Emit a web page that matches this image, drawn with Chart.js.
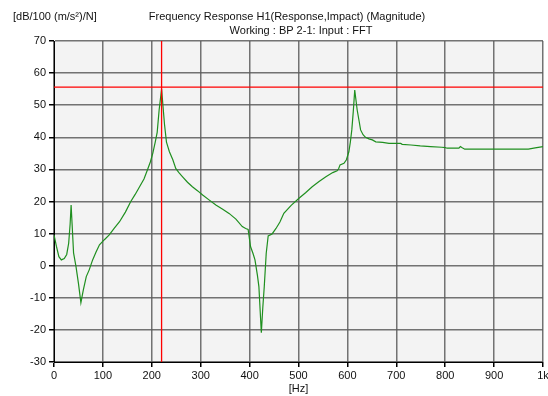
<!DOCTYPE html>
<html>
<head>
<meta charset="utf-8">
<script src="https://cdn.jsdelivr.net/npm/chart.js@4"></script>
<style>
  html, body { margin: 0; padding: 0; background: #fff; }
  #wrap { width: 548px; height: 396px; }
</style>
</head>
<body>
<div id="wrap"><canvas id="frfChart" width="548" height="396"></canvas></div>
<script>
// frequency axis [Hz] and magnitude [dB]
const freqHz = [0, 5, 10, 15, 21, 26, 30, 33, 35, 37, 40, 45, 50, 55, 60, 66, 72, 79, 86, 93,
  103, 113, 123, 134, 146, 157, 166, 175, 184, 191, 197, 202, 207, 211, 215, 220, 223, 226, 230, 236,
  243, 249, 255, 263, 273, 283, 294, 304, 317, 331, 345, 358, 372, 385, 392, 397, 402, 407, 411, 416,
  419, 424, 427, 430, 434, 438, 446, 454, 462, 470, 485, 501, 515, 528, 542, 556, 570, 579, 582, 585,
  593, 598, 603, 606, 609, 612, 615, 618, 620, 624, 627, 632, 637, 644, 651, 658, 672, 685, 709, 712,
  730, 749, 770, 793, 800, 804, 828, 831, 834, 840, 900, 970, 984, 1000];
const magDb = [9.6, 6, 2.8, 1.8, 2.2, 3.5, 7, 13, 18.9, 13, 4, -0.3, -5.5, -11.5, -7.5, -3.4, -1.3, 1.8, 4.3, 6.5,
  8.1, 9.6, 11.6, 13.7, 16.7, 20, 22.2, 24.6, 27, 29.8, 32.3, 35, 38.5, 41.5, 48.5, 55, 49.5, 44, 38.5, 35.5,
  33, 30.3, 29.1, 27.7, 26, 24.6, 23.3, 22, 20.5, 18.9, 17.6, 16.3, 14.5, 12.2, 11.6, 11.3, 5.9, 3.8, 1.8, -3,
  -6.5, -20.9, -13, -6.5, 3.9, 9.3, 9.9, 11.6, 13.6, 16.3, 18.8, 21, 22.8, 24.6, 26.2, 27.7, 29, 29.6, 30.2, 31.4,
  31.9, 33, 35.5, 38.5, 42.3, 48, 54.7, 51, 48.5, 45, 42.3, 40.8, 40, 39.5, 39.2, 38.6, 38.4, 38.1, 38.1, 37.8,
  37.6, 37.3, 37.1, 36.9, 36.8, 36.6, 36.6, 37.1, 36.8, 36.3, 36.3, 36.3, 36.7, 37.1];

// cursor position (red cross)
const cursorHz = 220;
const cursorDb = 55.6;

const xMin = 0, xMax = 1000, yMin = -30, yMax = 70;

const font = { family: '"Liberation Sans", Arial, sans-serif', size: 11 };

const curve = freqHz.map((f, i) => ({ x: f, y: magDb[i] }));

// plot background + header texts
const frame = {
  id: 'frame',
  beforeDraw(chart) {
    const { ctx, chartArea: a } = chart;
    ctx.save();
    ctx.fillStyle = '#f3f3f3';
    ctx.fillRect(a.left, a.top, a.right - a.left, a.bottom - a.top);
    ctx.restore();
  },
  afterDraw(chart) {
    const ctx = chart.ctx;
    ctx.save();
    ctx.fillStyle = '#111';
    ctx.font = '11px "Liberation Sans", Arial, sans-serif';
    ctx.textBaseline = 'middle';
    ctx.textAlign = 'left';
    ctx.fillText('[dB/100 (m/s²)/N]', 13, 17);
    ctx.textAlign = 'center';
    ctx.fillText('Frequency Response H1(Response,Impact) (Magnitude)', 287, 17);
    ctx.fillText('Working : BP 2-1: Input : FFT', 301, 31);
    ctx.restore();
  }
};

new Chart(document.getElementById('frfChart'), {
  type: 'line',
  data: {
    datasets: [
      {
        data: [{ x: cursorHz, y: yMin }, { x: cursorHz, y: yMax }],
        borderColor: '#ff0000',
        borderWidth: 1.3,
        pointRadius: 0
      },
      {
        data: [{ x: xMin, y: cursorDb }, { x: xMax, y: cursorDb }],
        borderColor: '#ff0000',
        borderWidth: 1.3,
        pointRadius: 0
      },
      {
        data: curve,
        borderColor: '#1f8f1f',
        borderWidth: 1.2,
        pointRadius: 0,
        tension: 0
      }
    ]
  },
  options: {
    responsive: false,
    animation: false,
    events: [],
    layout: { padding: { top: 41, right: 5, left: 0, bottom: 0 } },
    plugins: {
      legend: { display: false },
      tooltip: { enabled: false }
    },
    scales: {
      x: {
        type: 'linear',
        min: xMin,
        max: xMax,
        ticks: {
          stepSize: 100,
          color: '#111',
          font: font,
          padding: 2,
          maxRotation: 0,
          callback: v => (v === 1000 ? '1k' : v)
        },
        grid: { color: 'rgba(90,90,90,0.85)', lineWidth: 1.5, tickLength: 5, tickColor: '#000' },
        border: { color: '#000', width: 1 },
        title: { display: true, text: '[Hz]', color: '#111', font: font, padding: 0 },
        afterFit(s) { s.height = 34; s.paddingLeft = 0; s.paddingRight = 0; }
      },
      y: {
        min: yMin,
        max: yMax,
        ticks: { stepSize: 10, color: '#111', font: font, padding: 3 },
        grid: { color: 'rgba(90,90,90,0.85)', lineWidth: 1.5, tickLength: 5, tickColor: '#000' },
        border: { color: '#000', width: 1 },
        afterFit(s) { s.width = 54; s.paddingTop = 0; s.paddingBottom = 0; }
      }
    }
  },
  plugins: [frame]
});
</script>
</body>
</html>
